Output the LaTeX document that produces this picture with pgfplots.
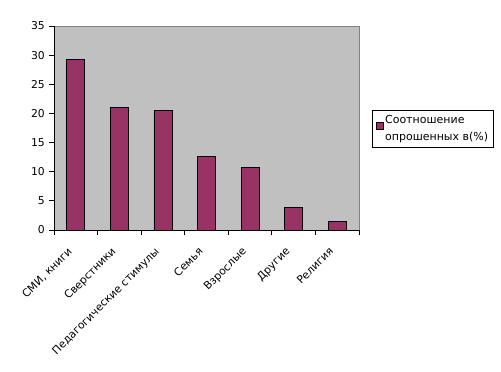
\documentclass[border=0pt]{standalone}
\usepackage{fontspec}
\setmainfont{DejaVu Sans}
\usepackage{pgfplots}
\pgfplotsset{compat=1.18}
\definecolor{barc}{HTML}{993366}
\definecolor{plotbg}{HTML}{C0C0C0}
\begin{document}
\begin{tikzpicture}
\path[use as bounding box] (0pt,0pt) rectangle (501pt,-372pt);
\begin{axis}[
  at={(54pt,-230pt)}, anchor=south west,
  scale only axis, width=305pt, height=204pt,
  xmin=-0.5, xmax=6.5, ymin=0, ymax=35,
  ytick={0,5,...,35},
  xtick={-0.5,0.5,...,6.5},
  xticklabels={{СМИ, книги},Сверстники,Педагогические стимулы,Семья,Взрослые,Другие,Религия,{}},
  xticklabel style={xshift=13pt, yshift=-10pt, rotate=45, anchor=north east, inner sep=1pt},
  yticklabel style={inner sep=2pt, xshift=-2pt},
  tick align=outside,
  major tick length=5pt,
  tick style={black, line width=0.8pt},
  axis x line*=bottom, axis y line*=left,
  axis line style={black, line width=0.8pt},
  axis background/.style={fill=plotbg, draw=gray},
  every tick label/.append style={font=\fontsize{10.8}{12}\selectfont},
  /pgf/number format/assume math mode=true,
  legend style={at={(1.043,0.588)}, anchor=north west, draw=black, line width=0.8pt,
    font=\fontsize{11}{17}\selectfont, cells={align=left}, inner xsep=3pt, inner ysep=3pt},
  legend cell align=left,
  legend image code/.code={\draw[#1, line width=0.6pt] (0pt,-1pt) rectangle (7pt,6pt);},
]
\addplot[ybar, bar width=18pt, fill=barc, draw=black, line width=0.8pt]
  coordinates {(0,29.2) (1,21.1) (2,20.5) (3,12.6) (4,10.8) (5,3.9) (6,1.5)};
\addlegendentry{Соотношение\\опрошенных в(\%)}
\end{axis}
\end{tikzpicture}
\end{document}
